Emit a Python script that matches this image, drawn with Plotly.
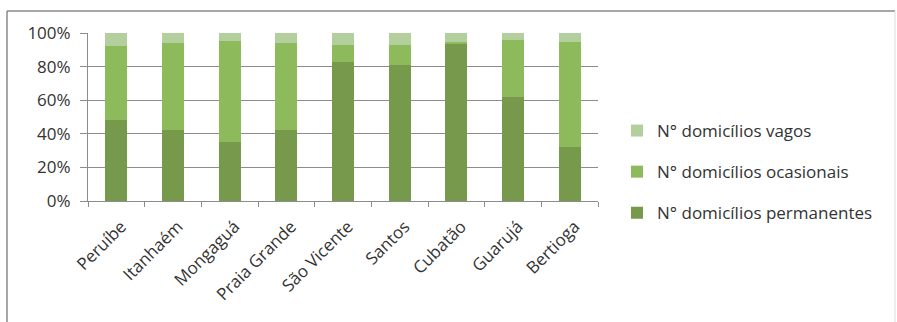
import plotly.graph_objects as go

# Municípios da Baixada Santista
municipios = ["Peruíbe", "Itanhaém", "Mongaguá", "Praia Grande", "São Vicente",
              "Santos", "Cubatão", "Guarujá", "Bertioga"]

# Participação (%) de cada tipo de domicílio
permanentes = [48, 42, 35, 42, 83, 81, 94, 62, 32]
ocasionais = [44, 52, 60.5, 52, 10, 12, 0.5, 34, 62.5]
vagos = [8, 6, 4.5, 6, 7, 7, 5.5, 4, 5.5]

y_ticks = [0, 20, 40, 60, 80, 100]
y_labels = ["0%", "20%", "40%", "60%", "80%", "100%"]

# (nome, valores, cor, posição na legenda)
series = [
    ("N° domicílios permanentes", permanentes, "#77994b", 3),
    ("N° domicílios ocasionais", ocasionais, "#8dbb5c", 2),
    ("N° domicílios vagos", vagos, "#b4cf9e", 1),
]

font_family = "Open Sans, Liberation Sans, sans-serif"
text_color = "#333333"
grid_color = "#8c8c8c"

fig = go.Figure()
for name, vals, color, rank in series:
    fig.add_trace(go.Bar(
        x=municipios, y=vals, name=name, legendgroup=name, legendrank=rank,
        marker=dict(color=color, line=dict(width=0)),
    ))

# plot area in pixels
L, R, T, B = 88, 598, 33, 201
W, H = 897, 322
pw, ph = R - L, B - T

def px(x):
    return (x - L) / pw

def py(y):
    return (B - y) / ph

fig.update_layout(
    width=W, height=H,
    margin=dict(l=L, r=W - R, t=T, b=H - B, pad=0),
    barmode="stack",
    bargap=0.61,
    paper_bgcolor="white",
    plot_bgcolor="white",
    font=dict(family=font_family, color=text_color, size=16),
    showlegend=True,
    legend=dict(
        x=px(617), y=py(113), xanchor="left", yanchor="top",
        traceorder="grouped", tracegroupgap=16,
        font=dict(size=17, color=text_color),
        itemwidth=30, bgcolor="rgba(0,0,0,0)",
    ),
    xaxis=dict(
        type="category", tickangle=-45, tickson="boundaries",
        ticks="outside", ticklen=5, tickcolor=grid_color,
        showline=True, linecolor=grid_color, linewidth=1,
        showgrid=False, tickfont=dict(size=17, color=text_color),
        ticklabelstandoff=8, ticklabelshift=5,
    ),
    yaxis=dict(
        range=[0, 100], tickvals=y_ticks, ticktext=y_labels,
        ticks="outside", ticklen=7, tickcolor=grid_color,
        showline=True, linecolor=grid_color, linewidth=1,
        showgrid=True, gridcolor=grid_color, gridwidth=1,
        zeroline=False, tickfont=dict(size=17, color=text_color),
        ticklabelstandoff=6,
    ),
    shapes=[
        # moldura do gráfico
        dict(type="line", xref="paper", yref="paper",
             x0=px(7), x1=px(895), y0=py(11), y1=py(11),
             line=dict(color="#8a8a8a", width=1.5)),
        dict(type="line", xref="paper", yref="paper",
             x0=px(7), x1=px(7), y0=py(11), y1=py(330),
             line=dict(color="#8a8a8a", width=1.5)),
        dict(type="line", xref="paper", yref="paper",
             x0=px(895), x1=px(895), y0=py(11), y1=py(330),
             line=dict(color="#dddddd", width=1)),
    ],
)

fig.write_html("out.html")
